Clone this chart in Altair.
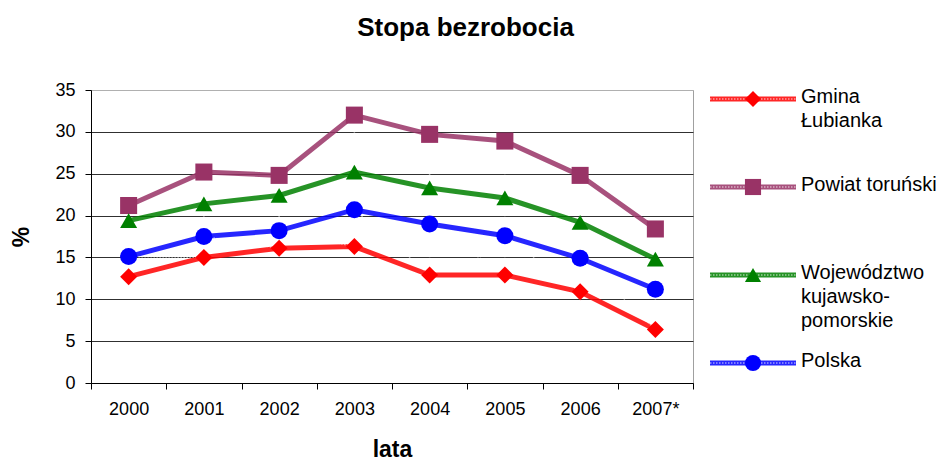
import altair as alt
import pandas as pd

years = ["2000", "2001", "2002", "2003", "2004", "2005", "2006", "2007*"]
gmina = [12.7, 15.0, 16.1, 16.3, 12.9, 12.9, 10.9, 6.4]
powiat = [21.2, 25.2, 24.8, 32.0, 29.7, 28.9, 24.8, 18.4]
wojewodztwo = [19.4, 21.4, 22.4, 25.2, 23.3, 22.1, 19.2, 14.8]
polska = [15.1, 17.5, 18.2, 20.7, 19.0, 17.6, 14.9, 11.2]

series = ["Gmina Łubianka", "Powiat toruński", "Województwo kujawsko-pomorskie", "Polska"]
legend_labels = ["Gmina\nŁubianka", "Powiat toruński", "Województwo\nkujawsko-\npomorskie", "Polska"]
colors = ["#FF0000", "#993366", "#008000", "#0000FF"]
shapes = ["diamond", "square", "triangle-up", "circle"]

rows = []
for name, vals in zip(series, [gmina, powiat, wojewodztwo, polska]):
    for y, v in zip(years, vals):
        rows.append({"rok": y, "wartosc": v, "seria": name})
df = pd.DataFrame(rows)

leg = pd.DataFrame({"seria": series, "etykieta": legend_labels, "idx": list(range(len(series)))})

FONT = "Liberation Sans"
color_scale = alt.Scale(domain=series, range=colors)
shape_scale = alt.Scale(domain=series, range=shapes)

x = alt.X("rok:N", sort=years,
          scale=alt.Scale(paddingInner=0, paddingOuter=0),
          axis=alt.Axis(title="lata", labelAngle=0, tickBand="extent", labelFontSize=18,
                        labelColor="black", domainColor="black", tickColor="black",
                        tickSize=6, labelPadding=11, titleFontSize=23, titleFontWeight="bold",
                        titleColor="black", titlePadding=20, grid=False))
y = alt.Y("wartosc:Q",
          scale=alt.Scale(domain=[0, 35], nice=False),
          axis=alt.Axis(title="%", values=list(range(0, 36, 5)), labelFontSize=18,
                        labelColor="black", domainColor="black", tickColor="black",
                        tickSize=6, labelPadding=10, titleFontSize=23, titleFontWeight="bold",
                        titleColor="black", titlePadding=21,
                        gridColor={"condition": {"test": "datum.value === 35", "value": "#b0b0b0"},
                                   "value": "#303030"},
                        gridWidth=1))

base = alt.Chart(df).encode(
    x=x, y=y,
    color=alt.Color("seria:N", scale=color_scale, legend=None),
)
line = base.mark_line(strokeWidth=5, opacity=0.85)
texture = base.mark_line(strokeWidth=1.5, strokeDash=[1.5, 1.5], opacity=0.55).encode(color=alt.value("white"))
pts = base.mark_point(filled=True, size=290, opacity=1).encode(
    shape=alt.Shape("seria:N", scale=shape_scale, legend=None))

main = alt.layer(line, texture, pts).properties(width=602, height=293)

ly = alt.Y("idx:Q", scale=alt.Scale(domain=[-0.1023, 3.2273], reverse=True, nice=False, zero=False), axis=None)
lbase = alt.Chart(leg).encode(y=ly, color=alt.Color("seria:N", scale=color_scale, legend=None))
lrule = lbase.mark_rule(strokeWidth=5, opacity=0.85).encode(x=alt.value(0), x2=alt.value(86))
ltex = lbase.mark_rule(strokeWidth=1.5, strokeDash=[1.5, 1.5], opacity=0.55).encode(
    x=alt.value(0), x2=alt.value(86), color=alt.value("white"))
lpts = lbase.mark_point(filled=True, size=260, opacity=1).encode(
    x=alt.value(43), shape=alt.Shape("seria:N", scale=shape_scale, legend=None))
ltext = alt.Chart(leg).mark_text(align="left", baseline="top", fontSize=20, lineBreak="\n",
                                 lineHeight=24, dy=-12, color="black", font=FONT).encode(
    x=alt.value(91), y=ly, text="etykieta:N")
legend = alt.layer(lrule, ltex, lpts, ltext).properties(
    width=222, height=293, view=alt.ViewBackground(stroke=None))

chart = alt.hconcat(main, legend, spacing=13).properties(
    title=alt.TitleParams("Stopa bezrobocia", fontSize=26, fontWeight="bold", anchor="middle",
                          color="black", font=FONT, offset=40, dx=-8),
    padding={"left": 2, "top": 6, "right": 0, "bottom": 0},
).configure(font=FONT).configure_view(stroke="#a0a0a0", strokeWidth=1)

chart.save("out.html", embed_options={"renderer": "svg", "actions": False})
